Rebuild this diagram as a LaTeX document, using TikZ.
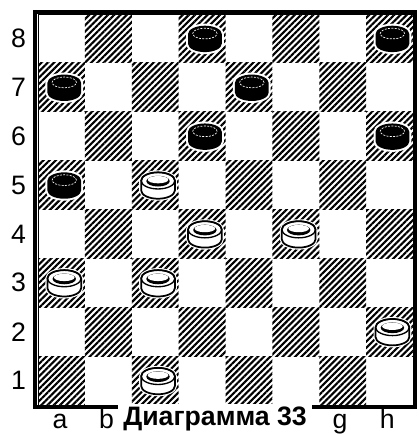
\documentclass[tikz,border=0pt]{standalone}
\usepackage{fontspec}
\setmainfont{Liberation Sans}
\usetikzlibrary{patterns.meta}

\tikzset{
  darksq/.style={pattern={Lines[angle=45,distance=3.3pt,line width=1.6pt]}},
  coordlabel/.style={font=\fontsize{20}{20}\selectfont, inner sep=0pt},
  piecehalo/.style={fill=white, draw=white, line width=3pt},
  blackpiece/.style={fill=black},
  whitepiece/.style={fill=white, draw=black, line width=1.3pt},
}
\newcommand{\piecepath}{(-.36,.09) -- (-.36,-.11) arc[start angle=180,end angle=360,x radius=.36,y radius=.17] -- (.36,.09) arc[start angle=0,end angle=180,x radius=.36,y radius=.17] -- cycle}

\begin{document}
\begin{tikzpicture}[x=35.156pt, y=36.656pt]
    \useasboundingbox (-0.811,-0.593) rectangle (8.107,8.286);
    % hatched squares
    \foreach \i in {0,...,7}
      \foreach \j in {0,...,7}
        {\pgfmathparse{int(mod(\i+\j,2))}
         \ifnum\pgfmathresult=0 \fill[darksq] (\i,\j) rectangle ++(1,1); \fi}
    % frame
    \draw[line width=3pt] (-0.06,-0.05) rectangle (8.04,8.04);
    \draw[line width=0.6pt] (0,0) rectangle (8,8);
    % black men
    \foreach \i/\j in {3/7,7/7,0/6,4/6,3/5,7/5,0/4}{
      \begin{scope}[shift={(\i+.56,\j+.5)}]
        \path[piecehalo] \piecepath;
        \path[blackpiece] \piecepath;
        \draw[white, line width=.5pt, dash pattern=on 1.5pt off 1pt] (0,.1) ellipse [x radius=.26, y radius=.11];
      \end{scope}}
    % white men
    \foreach \i/\j in {2/4,3/3,5/3,0/2,2/2,7/1,2/0}{
      \begin{scope}[shift={(\i+.56,\j+.5)}]
        \path[piecehalo] \piecepath;
        \path[whitepiece] \piecepath;
        \draw[line width=1pt] (0,.09) ellipse [x radius=.36, y radius=.17];
        \fill (0,.08) ellipse [x radius=.25, y radius=.11];
        \fill[white] (0,.11) ellipse [x radius=.22, y radius=.075];
      \end{scope}}
    % ranks and files
    \foreach \r in {1,...,8}
      \node[coordlabel] (rank\r) at (-0.416,\r-.5) {\r};
    \foreach \f/\x in {a/0.47,b/1.46,g/6.44,h/7.45}
      \node[coordlabel, anchor=base] (file\f) at (\x,-0.49) {\f};
    \node[fill=white, inner sep=0pt, minimum width=145.5pt, minimum height=22.5pt,
          font=\bfseries\fontsize{20}{20}\selectfont] (caption) at (3.776,-0.287) {Диаграмма 33};
\end{tikzpicture}
\end{document}
